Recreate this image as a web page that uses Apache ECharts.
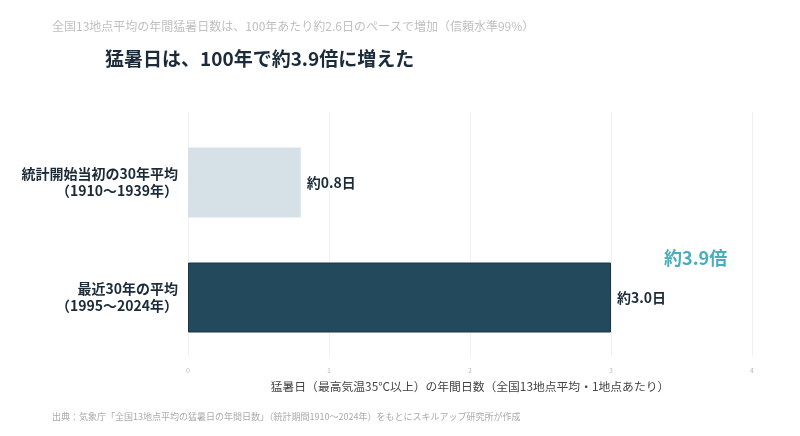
<!DOCTYPE html>
<html><head><meta charset="utf-8">
<script src="https://cdn.jsdelivr.net/npm/echarts@6/dist/echarts.min.js"></script>
<style>html,body{margin:0;padding:0;background:#fff}#c{width:800px;height:436px}</style>
</head><body><div id="c"></div>
<script>
const categories = ['統計開始当初の30年平均\n（1910〜1939年）', '最近30年の平均\n（1995〜2024年）'];
const values = [0.8, 3.0];
const valueLabels = ['約0.8日', '約3.0日'];
const barColors = ['#d6e1e7', '#234a5c'];
const xTicks = [0, 1, 2, 3, 4];
const ratioText = '約3.9倍';
const FONT = '"Noto Sans CJK JP", "Noto Sans", sans-serif';

const chart = echarts.init(document.getElementById('c'));
chart.setOption({
  animation: false,
  textStyle: { fontFamily: FONT },
  title: [
    { text: '全国13地点平均の年間猛暑日数は、100年あたり約2.6日のペースで増加（信頼水準99%）', left: 52, top: 20, padding: 0,
      textStyle: { fontSize: 12, fontWeight: 'normal', color: '#c0c0c0', fontFamily: FONT } },
    { text: '猛暑日は、100年で約3.9倍に増えた', left: 105, top: 49, padding: 0,
      textStyle: { fontSize: 19, fontWeight: 'bold', color: '#1c2b39', fontFamily: FONT } },
    { text: '出典：気象庁「全国13地点平均の猛暑日の年間日数」（統計期間1910〜2024年）をもとにスキルアップ研究所が作成', left: 52, top: 412, padding: 0,
      textStyle: { fontSize: 9, fontWeight: 'normal', color: '#aaaaaa', fontFamily: FONT } }
  ],
  grid: [
    { left: 188, right: 48, top: 125, bottom: 81, containLabel: false },
    { left: 188, right: 48, top: 112, bottom: 80, containLabel: false }
  ],
  xAxis: [{
    type: 'value', gridIndex: 0, min: xTicks[0], max: xTicks[xTicks.length - 1], interval: 1,
    axisLine: { show: false }, axisTick: { show: false },
    axisLabel: { fontSize: 7, color: '#bbbbbb', margin: 12 },
    splitLine: { show: false },
    name: '猛暑日（最高気温35°C以上）の年間日数（全国13地点平均・1地点あたり）',
    nameLocation: 'middle', nameGap: 26,
    nameTextStyle: { fontSize: 11.8, color: '#444444', fontFamily: FONT }
  }, {
    type: 'value', gridIndex: 1, min: xTicks[0], max: xTicks[xTicks.length - 1], interval: 1,
    axisLine: { show: false }, axisTick: { show: false }, axisLabel: { show: false },
    splitLine: { show: true, lineStyle: { color: '#f0f0f0', width: 1 } }
  }],
  yAxis: [{
    type: 'category', gridIndex: 0, data: categories, inverse: true,
    axisLine: { show: false }, axisTick: { show: false },
    axisLabel: { fontSize: 14, fontWeight: 'bold', color: '#1c2b39', lineHeight: 17, margin: 10, align: 'right' }
  }, {
    type: 'value', gridIndex: 1, show: false, min: 0, max: 1
  }],
  series: [{
    type: 'bar', barWidth: 70, xAxisIndex: 0, yAxisIndex: 0,
    data: values.map((v, i) => ({
      value: v,
      itemStyle: { color: barColors[i], borderColor: i === 1 ? '#183544' : barColors[i], borderWidth: i === 1 ? 1 : 0 },
      label: { show: true, position: 'right', distance: 6, formatter: valueLabels[i],
        fontSize: 14, fontWeight: 'bold', color: '#1c2b39' }
    })),
    markPoint: {
      symbol: 'circle', symbolSize: 0,
      data: [{ coord: [3.6, 1], label: { show: true, formatter: ratioText, offset: [0, -39], fontSize: 18, fontWeight: 'bold', color: '#48aebb' } }]
    }
  }, {
    type: 'line', xAxisIndex: 1, yAxisIndex: 1, data: [], silent: true
  }]
});
</script>
</body></html>
